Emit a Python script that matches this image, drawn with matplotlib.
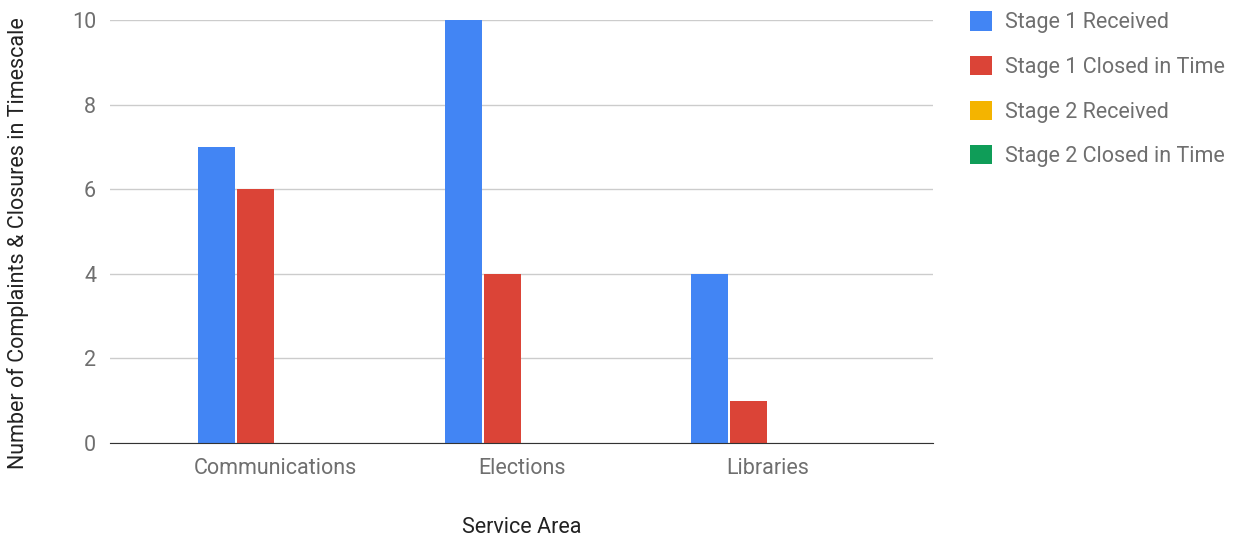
import matplotlib
matplotlib.use("Agg")
import matplotlib.pyplot as plt
import numpy as np
from matplotlib.patches import Patch

plt.rcParams['font.family'] = ['Roboto', 'DejaVu Sans']

areas = ['Communications', 'Elections', 'Libraries']
series = ['Stage 1 Received', 'Stage 1 Closed in Time',
          'Stage 2 Received', 'Stage 2 Closed in Time']
stage1_received = [7, 10, 4]
stage1_closed = [6, 4, 1]
stage2_received = [0, 0, 0]
stage2_closed = [0, 0, 0]
colors = ['#4285f4', '#db4437', '#f4b400', '#0f9d58']

values = [stage1_received, stage1_closed, stage2_received, stage2_closed]

fig = plt.figure(figsize=(12.45, 5.43), dpi=100)
ax = fig.add_axes([110 / 1245, 100 / 543, 823 / 1245, 423 / 543])

index = np.arange(len(areas))
step = 0.158
for i, (vals, col) in enumerate(zip(values, colors)):
    ax.bar(index + (i - 1.5) * step, vals, step * 0.95, color=col,
           zorder=3)

ax.set_xlim(-0.67, 2.67)
ax.set_ylim(0, 10)
ax.set_yticks(np.arange(0, 11, 2))
ax.set_xticks(index)
ax.set_xticklabels(areas)
ax.tick_params(axis='both', length=0, labelsize=15.5, colors='#6f6f6f')
ax.tick_params(axis='y', pad=10)
ax.tick_params(axis='x', pad=11)
ax.grid(axis='y', color='#cccccc', linewidth=1, zorder=0)
for side in ['top', 'right', 'left']:
    ax.spines[side].set_visible(False)
ax.spines['bottom'].set_color('#333333')
ax.spines['bottom'].set_zorder(4)

ax.set_xlabel('Service Area', fontsize=15.5, color='#222222', va='center')
ax.xaxis.set_label_coords(0.5, -0.199)
ax.set_ylabel('Number of Complaints & Closures in Timescale', fontsize=15.5,
              color='#222222', va='center')
ax.yaxis.set_label_coords(-0.112, 0.473)

handles = [Patch(facecolor=c, edgecolor='none') for c in colors]
fig.legend(handles, series, loc='upper left',
           bbox_to_anchor=(951 / 1245, 1 + 8 / 543), frameon=False,
           fontsize=15.5, labelcolor='#6f6f6f', handlelength=1.0,
           handleheight=1.0, handletextpad=0.62, labelspacing=1.05)

plt.savefig("out.png", dpi=100)
